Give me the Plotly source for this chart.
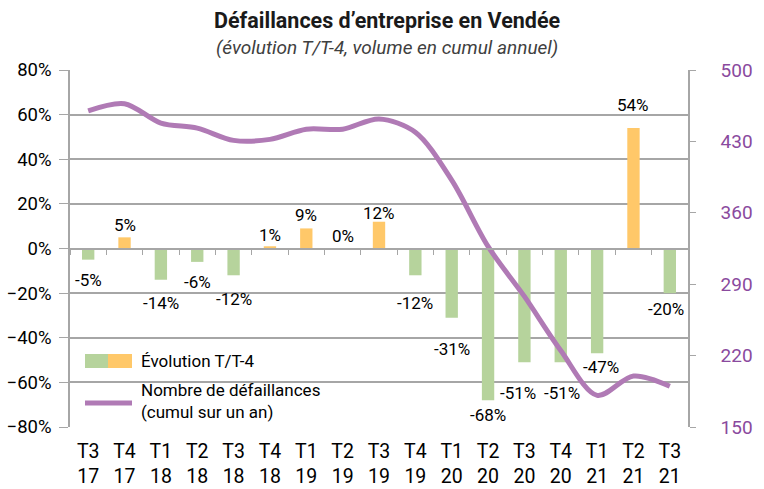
import plotly.graph_objects as go

categories = ["T3<br>17", "T4<br>17", "T1<br>18", "T2<br>18", "T3<br>18", "T4<br>18",
              "T1<br>19", "T2<br>19", "T3<br>19", "T4<br>19", "T1<br>20", "T2<br>20",
              "T3<br>20", "T4<br>20", "T1<br>21", "T2<br>21", "T3<br>21"]
evolution = [-5, 5, -14, -6, -12, 1, 9, 0, 12, -12, -31, -68, -51, -51, -47, 54, -20]
defaillances = [460, 467, 448, 443, 431, 432, 442, 442, 452, 439, 392, 327, 278, 225, 181, 200, 190]

# label placement (style): distance in px from bar end to label centre, and horizontal nudge
label_gap = [20, 12, 23, 20, 24, 11, 13, 13, 9, 28, 31, 15, 31, 31, 14, 23, 16]
label_dx = [0, 0, 0, 0, 0, 0, 0, 0, 0, 0, 0, 0, -6, 1, 4, 0, -4]

GREEN = "#B6D39C"
ORANGE = "#FFC869"
PURPLE = "#B07AB5"
AXIS_PURPLE = "#8A4A9E"
GRID = "#A6A6A6"
FONT = "Roboto, sans-serif"

bar_colors = [ORANGE if v >= 0 else GREEN for v in evolution]

fig = go.Figure()
fig.add_trace(go.Bar(
    x=categories, y=evolution, marker=dict(color=bar_colors, line=dict(width=0)),
    cliponaxis=False, width=0.34, showlegend=False, hoverinfo="skip",
))
fig.add_trace(go.Scatter(
    x=categories, y=defaillances, yaxis="y2", mode="lines",
    line=dict(color=PURPLE, width=5, shape="spline", smoothing=0.9),
    showlegend=False, hoverinfo="skip",
))
# invisible helper for the category axis crossing at 0
fig.add_trace(go.Scatter(
    x=categories, y=[0] * len(categories), xaxis="x2", mode="markers",
    marker=dict(opacity=0), showlegend=False, hoverinfo="skip",
))

for c, v, g, dx in zip(categories, evolution, label_gap, label_dx):
    fig.add_annotation(
        x=c, y=v, xref="x", yref="y", text=f"{v}%", showarrow=False,
        xanchor="center", yanchor="middle", yshift=(g if v >= 0 else -g), xshift=dx,
        font=dict(size=17, family=FONT, color="#000000"),
    )

W, H = 764, 489
L, R, T, B = 70, 76, 70, 62
pw, ph = W - L - R, H - T - B

def px(x):
    return (x - L) / pw

def py(y):
    return (H - B - y) / ph

fig.update_layout(
    width=W, height=H,
    margin=dict(l=L, r=R, t=T, b=B),
    paper_bgcolor="white", plot_bgcolor="white",
    font=dict(family=FONT, color="#000000", size=17),
    showlegend=False,
    bargap=0.66,
    xaxis=dict(
        type="category", range=[-0.5, 16.5], showline=False, ticks="",
        tickfont=dict(size=19.5, family=FONT), showgrid=False, zeroline=False,
        ticklabelstandoff=10, automargin=False,
    ),
    xaxis2=dict(
        type="category", overlaying="x", anchor="free", position=0.5,
        range=[-0.5, 16.5], showline=True, linecolor=GRID, linewidth=1.5,
        ticks="outside", tickson="boundaries", ticklen=6, tickcolor=GRID,
        showticklabels=False, showgrid=False, zeroline=False, automargin=False,
    ),
    yaxis=dict(
        range=[-80, 80], dtick=20, ticksuffix="%", showgrid=True,
        gridcolor=GRID, gridwidth=1.5, zeroline=False,
        showline=True, linecolor=GRID, linewidth=1.5,
        ticks="outside", ticklen=9, tickcolor=GRID, ticklabelstandoff=4,
        tickfont=dict(size=18.5, family=FONT), automargin=False,
    ),
    yaxis2=dict(
        overlaying="y", side="right", range=[150, 500], tick0=150, dtick=70,
        showgrid=False, zeroline=False, showline=True, linecolor=GRID, linewidth=1.5,
        ticks="outside", ticklen=6, tickcolor=GRID, ticklabelstandoff=21,
        tickfont=dict(size=19, family=FONT, color=AXIS_PURPLE), automargin=False,
    ),
)

# Title and subtitle
fig.add_annotation(text="<b>Défaillances d’entreprise en Vendée</b>", xref="paper", yref="paper",
                   x=px(387), y=py(20), showarrow=False, xanchor="center", yanchor="middle",
                   font=dict(size=21.5, family=FONT, color="#1a1a1a"))
fig.add_annotation(text="<i>(évolution T/T-4, volume en cumul annuel)</i>", xref="paper", yref="paper",
                   x=px(387), y=py(47), showarrow=False, xanchor="center", yanchor="middle",
                   font=dict(size=19, family=FONT, color="#404040"))

# Custom legend
fig.add_shape(type="rect", xref="paper", yref="paper", x0=px(85), x1=px(108), y0=py(368), y1=py(354),
              fillcolor=GREEN, line=dict(width=0))
fig.add_shape(type="rect", xref="paper", yref="paper", x0=px(108), x1=px(132), y0=py(368), y1=py(354),
              fillcolor=ORANGE, line=dict(width=0))
fig.add_shape(type="line", xref="paper", yref="paper", x0=px(85), x1=px(132), y0=py(403), y1=py(403),
              line=dict(color=PURPLE, width=5))
fig.add_annotation(text="Évolution T/T-4", xref="paper", yref="paper", x=px(139), y=py(361),
                   showarrow=False, xanchor="left", yanchor="middle", font=dict(size=17, family=FONT))
fig.add_annotation(text="Nombre de défaillances<br>(cumul sur un an)", xref="paper", yref="paper",
                   x=px(139), y=py(401), showarrow=False, xanchor="left", yanchor="middle", align="left",
                   font=dict(size=17, family=FONT))

fig.write_html("out.html")
